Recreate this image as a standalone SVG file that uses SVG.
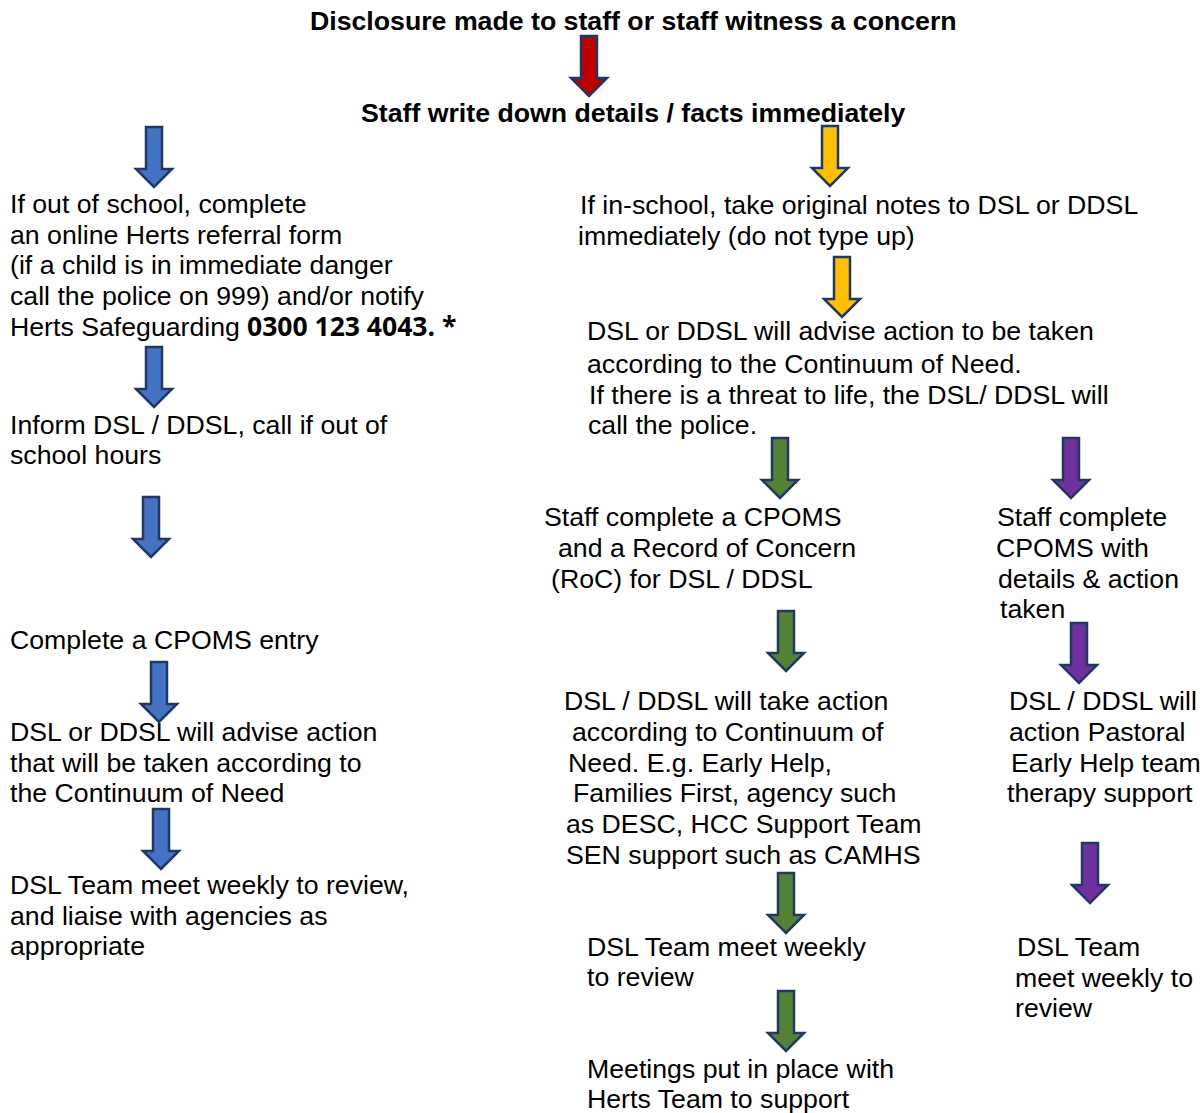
<svg xmlns="http://www.w3.org/2000/svg" xmlns:xlink="http://www.w3.org/1999/xlink" width="1204" height="1113" viewBox="0 0 1204 1113">
<style>
text{font-family:"Liberation Sans",Arial,sans-serif;font-size:26.7px;fill:#000}
.b{font-weight:bold}
.num{font-family:"Open Sans","Noto Sans",sans-serif;font-weight:700;font-size:26.5px}
.arr{stroke:#203864;stroke-width:2.5;stroke-linejoin:miter}
.red{fill:#C00000}.blue{fill:#4472C4}.yel{fill:#FFC000}.grn{fill:#548235}.pur{fill:#7030A0}
</style>
<defs>
<path id="a" d="M-8,0 H8 V42 H18 L0,60 L-18,42 H-8 Z"/>
</defs>
<rect width="1204" height="1113" fill="#fff"/>
<g id="n-title"><text class="b" x="310" y="30">Disclosure made to staff or staff witness a concern</text></g>
<g id="n-write"><text class="b" x="361" y="122">Staff write down details / facts immediately</text></g>
<g id="n-outschool"><text x="10" y="213">If out of school, complete</text><text x="10" y="244">an online Herts referral form</text><text x="10" y="274">(if a child is in immediate danger</text><text x="10" y="305">call the police on 999) and/or notify</text><text x="10" y="336">Herts Safeguarding <tspan class="num" x="247">0300 123 4043. *</tspan></text></g>
<g id="n-inform"><text x="10" y="434">Inform DSL / DDSL, call if out of</text><text x="10" y="464">school hours</text></g>
<g id="n-cpoms-left"><text x="10" y="649">Complete a CPOMS entry</text></g>
<g id="n-advise-left"><text x="10" y="741">DSL or DDSL will advise action</text><text x="10" y="772">that will be taken according to</text><text x="10" y="802">the Continuum of Need</text></g>
<g id="n-team-left"><text x="10" y="894">DSL Team meet weekly to review,</text><text x="10" y="925">and liaise with agencies as</text><text x="10" y="955">appropriate</text></g>
<g id="n-inschool"><text x="580" y="214">If in-school, take original notes to DSL or DDSL</text><text x="578" y="245">immediately (do not type up)</text></g>
<g id="n-advise-right"><text x="587" y="340">DSL or DDSL will advise action to be taken</text><text x="587" y="373">according to the Continuum of Need.</text><text x="589" y="404">If there is a threat to life, the DSL/ DDSL will</text><text x="588" y="434">call the police.</text></g>
<g id="n-roc"><text x="544" y="526">Staff complete a CPOMS</text><text x="558" y="557">and a Record of Concern</text><text x="551" y="588">(RoC) for DSL / DDSL</text></g>
<g id="n-cpoms-right"><text x="997" y="526">Staff complete</text><text x="996" y="557">CPOMS with</text><text x="998" y="588">details &amp; action</text><text x="1000" y="618">taken</text></g>
<g id="n-action-green"><text x="564" y="710">DSL / DDSL will take action</text><text x="572" y="741">according to Continuum of</text><text x="568" y="772">Need. E.g. Early Help,</text><text x="573" y="802">Families First, agency such</text><text x="566" y="833">as DESC, HCC Support Team</text><text x="566" y="864">SEN support such as CAMHS</text></g>
<g id="n-action-purple"><text x="1009" y="710">DSL / DDSL will</text><text x="1009" y="741">action Pastoral</text><text x="1011" y="772">Early Help team</text><text x="1007" y="802">therapy support</text></g>
<g id="n-team-green"><text x="587" y="956">DSL Team meet weekly</text><text x="587" y="986">to review</text></g>
<g id="n-team-purple"><text x="1017" y="956">DSL Team</text><text x="1015" y="987">meet weekly to</text><text x="1015" y="1017">review</text></g>
<g id="n-meetings"><text x="587" y="1078">Meetings put in place with</text><text x="587" y="1108">Herts Team to support</text></g>
<g id="connectors" class="arr">
<use xlink:href="#a" class="red" transform="translate(589,36)"/>
<use xlink:href="#a" class="blue" transform="translate(154,127)"/>
<use xlink:href="#a" class="yel" transform="translate(830,126)"/>
<use xlink:href="#a" class="yel" transform="translate(842,257)"/>
<use xlink:href="#a" class="blue" transform="translate(154,347)"/>
<use xlink:href="#a" class="blue" transform="translate(151,497)"/>
<use xlink:href="#a" class="blue" transform="translate(159,662)"/>
<use xlink:href="#a" class="blue" transform="translate(161,809)"/>
<use xlink:href="#a" class="grn" transform="translate(780,438)"/>
<use xlink:href="#a" class="pur" transform="translate(1071,438)"/>
<use xlink:href="#a" class="grn" transform="translate(786,611)"/>
<use xlink:href="#a" class="pur" transform="translate(1079,623)"/>
<use xlink:href="#a" class="pur" transform="translate(1090,843)"/>
<use xlink:href="#a" class="grn" transform="translate(786,873)"/>
<use xlink:href="#a" class="grn" transform="translate(786,991)"/>
</g>
</svg>
